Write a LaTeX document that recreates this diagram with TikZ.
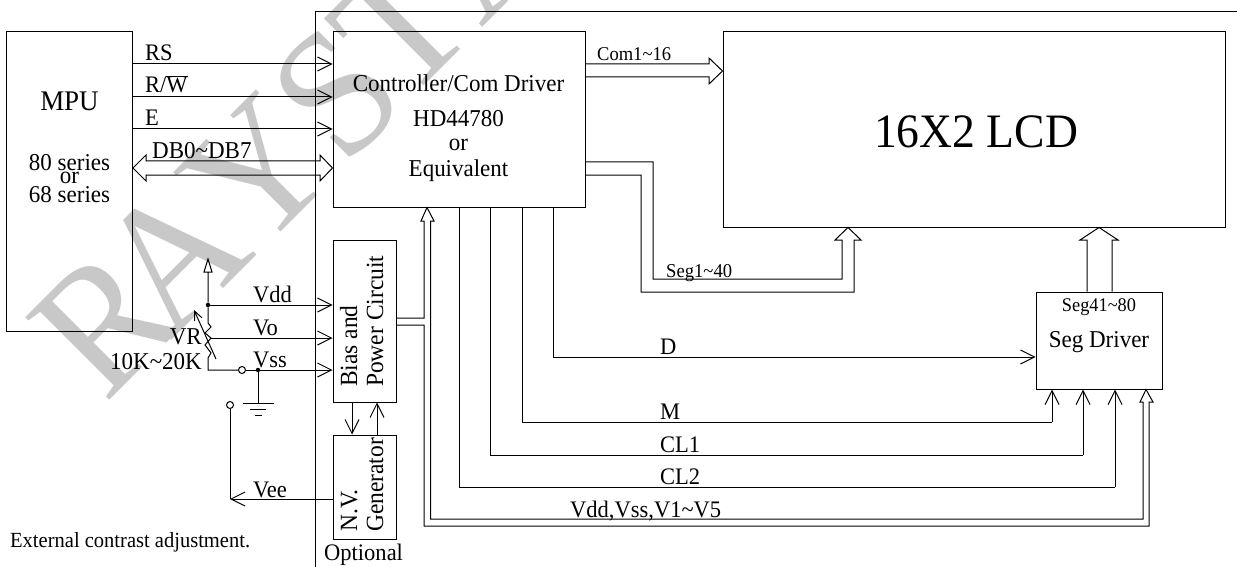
\documentclass[tikz,border=0pt]{standalone}
\usepackage{fontspec}
\setmainfont[FakeStretch=0.95]{Liberation Serif}
\usetikzlibrary{arrows.meta,positioning}
\definecolor{wmgray}{RGB}{200,200,200}
\newcommand{\fsz}[1]{\fontsize{#1}{#1}\selectfont}
\tikzset{
  wire/.style={line width=1pt, line join=miter},
  sig/.style={wire, -{Straight Barb[length=14pt,width=14pt,line width=1pt]}},
  block/.style={draw, wire, inner sep=0pt},
  lbl/.style={anchor=base west, inner sep=0pt, font=\fsz{23.7}},
  mid/.style={anchor=base, inner sep=0pt, font=\fsz{24.2}},
  up/.style={anchor=base west, inner sep=0pt, rotate=90, font=\fsz{24.7}},
  dot/.style={circle, fill, inner sep=0pt, minimum size=4.5pt},
  opendot/.style={circle, draw, fill=white, line width=1pt, inner sep=0pt, minimum size=7pt},
  wmark/.style={anchor=base west, inner sep=0pt, rotate=45, text=wmgray, font=\fsz{180}}
}
\begin{document}
\begin{tikzpicture}[x=1pt,y=-1pt]
  \useasboundingbox (0,0) rectangle (1237,567);
  % watermark
  \foreach \ch/\px/\py/\nm in {R/105/405/a,A/170/342/b,Y/255/258/c,S/344/169/d,T/405/105/e,A/481/29/f} {
    \node[wmark] (wm\nm) at (\px,\py) {\ch};
  }

  % frame
  \coordinate (framebot) at (315,567);
  \coordinate (framecorner) at (315,12);
  \coordinate (frameend) at (1237,12);
  \draw[wire] (framebot) -- (framecorner) -- (frameend);

  % blocks
  \node[block, minimum width=126pt, minimum height=299pt] (mpu) at (69.5,181.5) {};
  \node[block, minimum width=252pt, minimum height=175pt] (ctrl) at (459,119.5) {};
  \node[block, minimum width=502pt, minimum height=195pt] (lcd) at (974,129.5) {};
  \node[block, minimum width=126pt, minimum height=97pt] (segdrv) at (1099,340.5) {};
  \node[block, minimum width=63pt, minimum height=162pt] (bias) at (364.5,321) {};
  \node[block, minimum width=63pt, minimum height=104pt] (nvgen) at (364.5,487) {};

  % block texts
  \node[mid, font=\fsz{28.4}] (mpulbl) at (69.5,111) {MPU};
  \node[mid] (mpuser) at (69.5,171) {80 series};
  \node[mid] (mpuor) at (69.5,183) {or};
  \node[mid] (mpuser2) at (69.5,202) {68 series};
  \node[mid] (ctrllbl) at (458.5,92) {Controller/Com Driver};
  \node[mid] (ctrlhd) at (458.5,127) {HD44780};
  \node[mid] (ctrlor) at (458.5,151) {or};
  \node[mid] (ctrleq) at (458.5,176) {Equivalent};
  \node[mid, font=\fsz{48}] (lcdlbl) at (976,147) {16X2 LCD};
  \node[mid, font=\fsz{19.3}] (seglbl) at (1099,311) {Seg41\textasciitilde80};
  \node[mid] (segdrvlbl) at (1099,347) {Seg Driver};
  \node[up] (biaslbl) at (357,387) {Bias and};
  \node[up] (powerlbl) at (383,387) {Power Circuit};
  \node[up] (nvlbl) at (357,532) {N.V.};
  \node[up] (genlbl) at (383,532) {Generator};
  \node[lbl] (optlbl) at (324,560) {Optional};
  \node[lbl, font=\fsz{21.6}] (extlbl) at (10,547) {External contrast adjustment.};

  % MPU to controller
  \draw[sig] (mpu.east |- 0,64) -- (ctrl.west |- 0,64);
  \draw[sig] (mpu.east |- 0,97) -- (ctrl.west |- 0,97);
  \draw[sig] (mpu.east |- 0,129) -- (ctrl.west |- 0,129);
  \draw[wire] (mpu.east |- 0,168) -- (146,155) -- (146,161) -- (320,161) -- (320,155)
    -- (ctrl.west |- 0,168) -- (320,181) -- (320,175) -- (146,175) -- (146,181) -- cycle;
  \node[lbl] (rslbl) at (145,61) {RS};
  \node[lbl] (rwlbl) at (145,93) {R/$\overline{\mbox{W}}$};
  \node[lbl] (elbl) at (145,126) {E};
  \node[lbl, font=\fsz{24.2}] (dblbl) at (152,159) {DB0\textasciitilde DB7};

  % buses to the LCD
  \draw[wire] (ctrl.east |- 0,64) -- (709,64) -- (709,58) -- (lcd.west |- 0,71)
    -- (709,84) -- (709,77) -- (ctrl.east |- 0,77);
  \node[lbl, font=\fsz{19.5}] (comlbl) at (597,61) {Com1\textasciitilde 16};
  \draw[wire] (ctrl.east |- 0,162) -- (653,162) -- (653,279) -- (842,279) -- (842,240) -- (835,240)
    -- (lcd.south -| 848,0) -- (861,240) -- (854,240) -- (854,292) -- (641,292) -- (641,175)
    -- (ctrl.east |- 0,175);
  \node[lbl, font=\fsz{19.6}] (seg1lbl) at (666,277) {Seg1\textasciitilde 40};
  \draw[wire] (segdrv.north -| 1087,0) -- (1087,240) -- (1080,240) -- (lcd.south -| 1099,0)
    -- (1118,240) -- (1112,240) -- (segdrv.north -| 1112,0);

  % controller to seg driver
  \coordinate (dcorner) at (553,357);
  \draw[wire] (ctrl.south -| dcorner) -- (dcorner);
  \draw[sig] (dcorner) -- (segdrv.west |- dcorner);
  \foreach \vx/\hy/\ex in {522/422/1052,490/455/1083,459/487/1115} {
    \draw[wire] (ctrl.south -| \vx,0) -- (\vx,\hy) -- (\ex,\hy);
    \draw[sig] (\ex,\hy) -- (segdrv.south -| \ex,0);
  }
  \node[lbl] (dlbl) at (660,354) {D};
  \node[lbl] (mlbl) at (660,419) {M};
  \node[lbl] (cl1lbl) at (660,452) {CL1};
  \node[lbl] (cl2lbl) at (660,484) {CL2};

  % bias bus
  \draw[wire] (bias.east |- 0,318) -- (424,318) -- (424,221) -- (421,221) -- (ctrl.south -| 427,0)
    -- (434,221) -- (430.5,221) -- (430.5,519) -- (1143,519) -- (1143,402) -- (1140,402)
    -- (segdrv.south -| 1146,0) -- (1153,402) -- (1149,402) -- (1149,526) -- (424,526)
    -- (424,325) -- (bias.east |- 0,325);
  \node[lbl] (vlbl) at (570,517) {Vdd,Vss,V1\textasciitilde V5};

  % bias and generator
  \draw[sig] (bias.south -| 352,0) -- (nvgen.north -| 352,0);
  \draw[sig] (nvgen.north -| 377,0) -- (bias.south -| 377,0);

  % VR
  \node[dot] (vdddot) at (208,305) {};
  \coordinate (votap) at (211,338);
  \coordinate (vrcorner) at (208,370);
  \node[opendot] (vssopen) at (242,370) {};
  \node[dot] (vssdot) at (258,370) {};
  \draw[wire] (vdddot) -- (208,323) -- (211,327) -- (205,333) -- (votap) -- (205,345) -- (211,353)
    -- (208,358) -- (vrcorner) -- (vssopen);
  \draw[wire] (vdddot) -- (208,272) -- (204,272) -- (208,259) -- (212,272) -- (208,272);
  \draw[-{Straight Barb[length=9pt,width=8pt,line width=1pt]}, line width=1pt] (216,359) -- (194,310);
  \draw[sig] (vdddot) -- (bias.west |- vdddot);
  \draw[sig] (votap) -- (bias.west |- votap);
  \draw[wire] (vssopen) -- (vssdot);
  \draw[sig] (vssdot) -- (bias.west |- vssdot);
  \node[lbl] (vddlbl) at (253,302) {Vdd};
  \node[lbl] (volbl) at (253,335) {Vo};
  \node[lbl] (vsslbl) at (253,367) {Vss};
  \node[anchor=base east, inner sep=0pt, font=\fsz{24.2}] (vrlbl) at (202,344) {VR};
  \node[anchor=base east, inner sep=0pt, font=\fsz{24.2}] (vrval) at (202,369) {10K\textasciitilde 20K};

  % ground
  \coordinate (gnd) at (258,403);
  \draw[wire] (vssdot) -- (gnd);
  \draw[wire] (243,403) -- (274,403);
  \draw[wire] (250,409) -- (266,409);
  \draw[wire] (255,415) -- (262,415);

  % Vee
  \node[opendot] (veeopen) at (230,405) {};
  \coordinate (veecorner) at (230,499);
  \draw[sig] (nvgen.west |- veecorner) -- (veecorner);
  \draw[wire] (veecorner) -- (veeopen);
  \node[lbl] (veelbl) at (253,497) {Vee};
\end{tikzpicture}
\end{document}
